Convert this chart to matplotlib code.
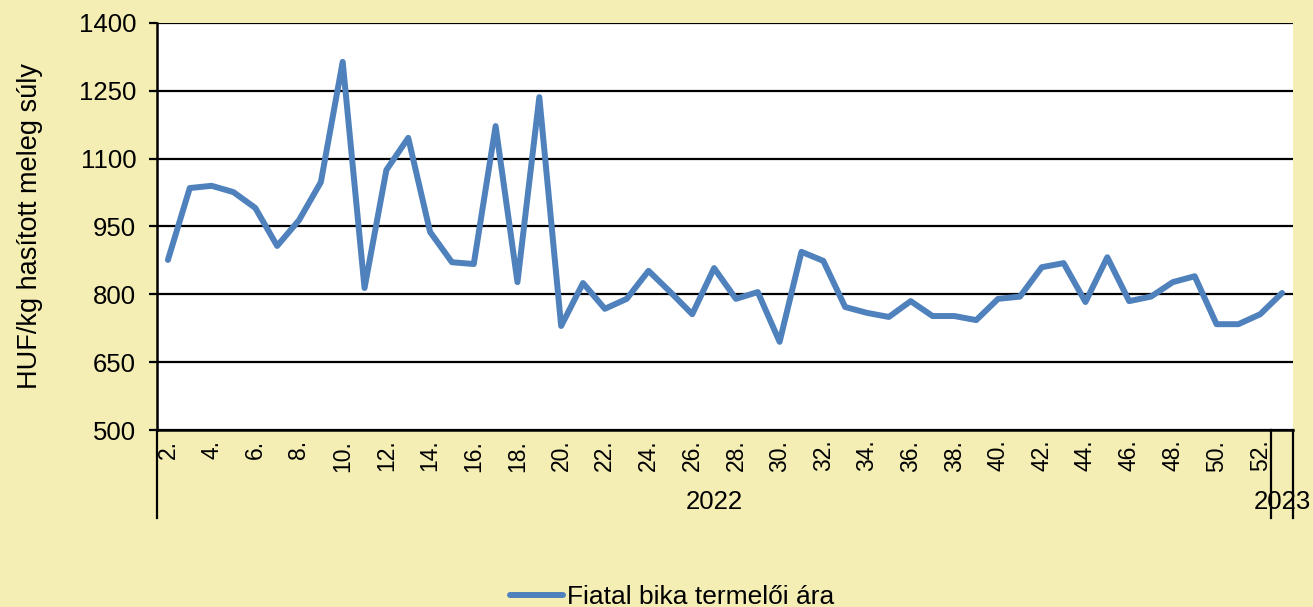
import numpy as np
import matplotlib.pyplot as plt
from matplotlib.transforms import blended_transform_factory

plt.rcParams['font.family'] = ['Liberation Sans', 'DejaVu Sans']

# Heti adatok: 2022. 2-52. hét, 2023. 1. hét
weeks = [f"{w}." for w in range(2, 53)] + ["1."]
years = ["2022"] * 51 + ["2023"]
price = [876, 1035, 1040, 1026, 991, 907, 964, 1048, 1314, 814,
         1075, 1146, 938, 871, 867, 1172, 827, 1236, 730, 825,
         768, 790, 852, 805, 756, 858, 790, 805, 695, 894,
         874, 772, 759, 750, 785, 752, 752, 743, 790, 795,
         860, 869, 783, 882, 785, 795, 827, 840, 734, 734,
         756, 803]
series_name = "Fiatal bika termelői ára"
ylabel = "HUF/kg hasított meleg súly"

bg = '#F4EEB4'
line_col = '#4F81BD'

fig = plt.figure(figsize=(13.13, 6.07), dpi=100, facecolor=bg)
ax = fig.add_axes([157/1313, 1-430/607, (1293-157)/1313, 407/607])
ax.set_facecolor('white')

x = np.arange(len(price))
ax.plot(x, price, color=line_col, lw=4.3, solid_joinstyle='round',
        solid_capstyle='round', label=series_name, zorder=3)

ax.set_xlim(-0.5, len(price) - 0.5)
ax.set_ylim(500, 1400)
ax.set_yticks(np.arange(500, 1401, 150))
ax.grid(axis='y', color='black', lw=1.6)
ax.set_axisbelow(True)

for s in ['top', 'right']:
    ax.spines[s].set_visible(False)
for s in ['left', 'bottom']:
    ax.spines[s].set_linewidth(1.8)
    ax.spines[s].set_color('black')

ax.tick_params(axis='y', labelsize=18.5, length=6, width=1.6, pad=9)
ax.set_xticks(x)
ax.set_xticklabels([w if i % 2 == 0 else "" for i, w in enumerate(weeks)],
                   rotation=90, fontsize=16.5)
ax.tick_params(axis='x', length=0, pad=7)
fig.text(30/1313, 1-226/607, ylabel, rotation=90, ha='center', va='center',
         fontsize=19.5)

# évcsoport elválasztók és feliratok
tr = blended_transform_factory(ax.transData, ax.transAxes)
bounds = [-0.5]
for i in range(1, len(years)):
    if years[i] != years[i-1]:
        bounds.append(i - 0.5)
bounds.append(len(years) - 0.5)
for b in bounds:
    ax.plot([b, b], [0, -88/407], color='black', lw=1.6, transform=tr, clip_on=False)
for a, b in zip(bounds[:-1], bounds[1:]):
    ax.text((a + b) / 2, -72/407, years[int(a + 0.5)], transform=tr,
            ha='center', va='center', fontsize=18.5)

fig.legend(loc='center', bbox_to_anchor=(0.512, 1-597/607), frameon=False,
           fontsize=19, handlelength=2.0, handletextpad=0.15)

fig.savefig('out.png', dpi=100, facecolor=bg)
